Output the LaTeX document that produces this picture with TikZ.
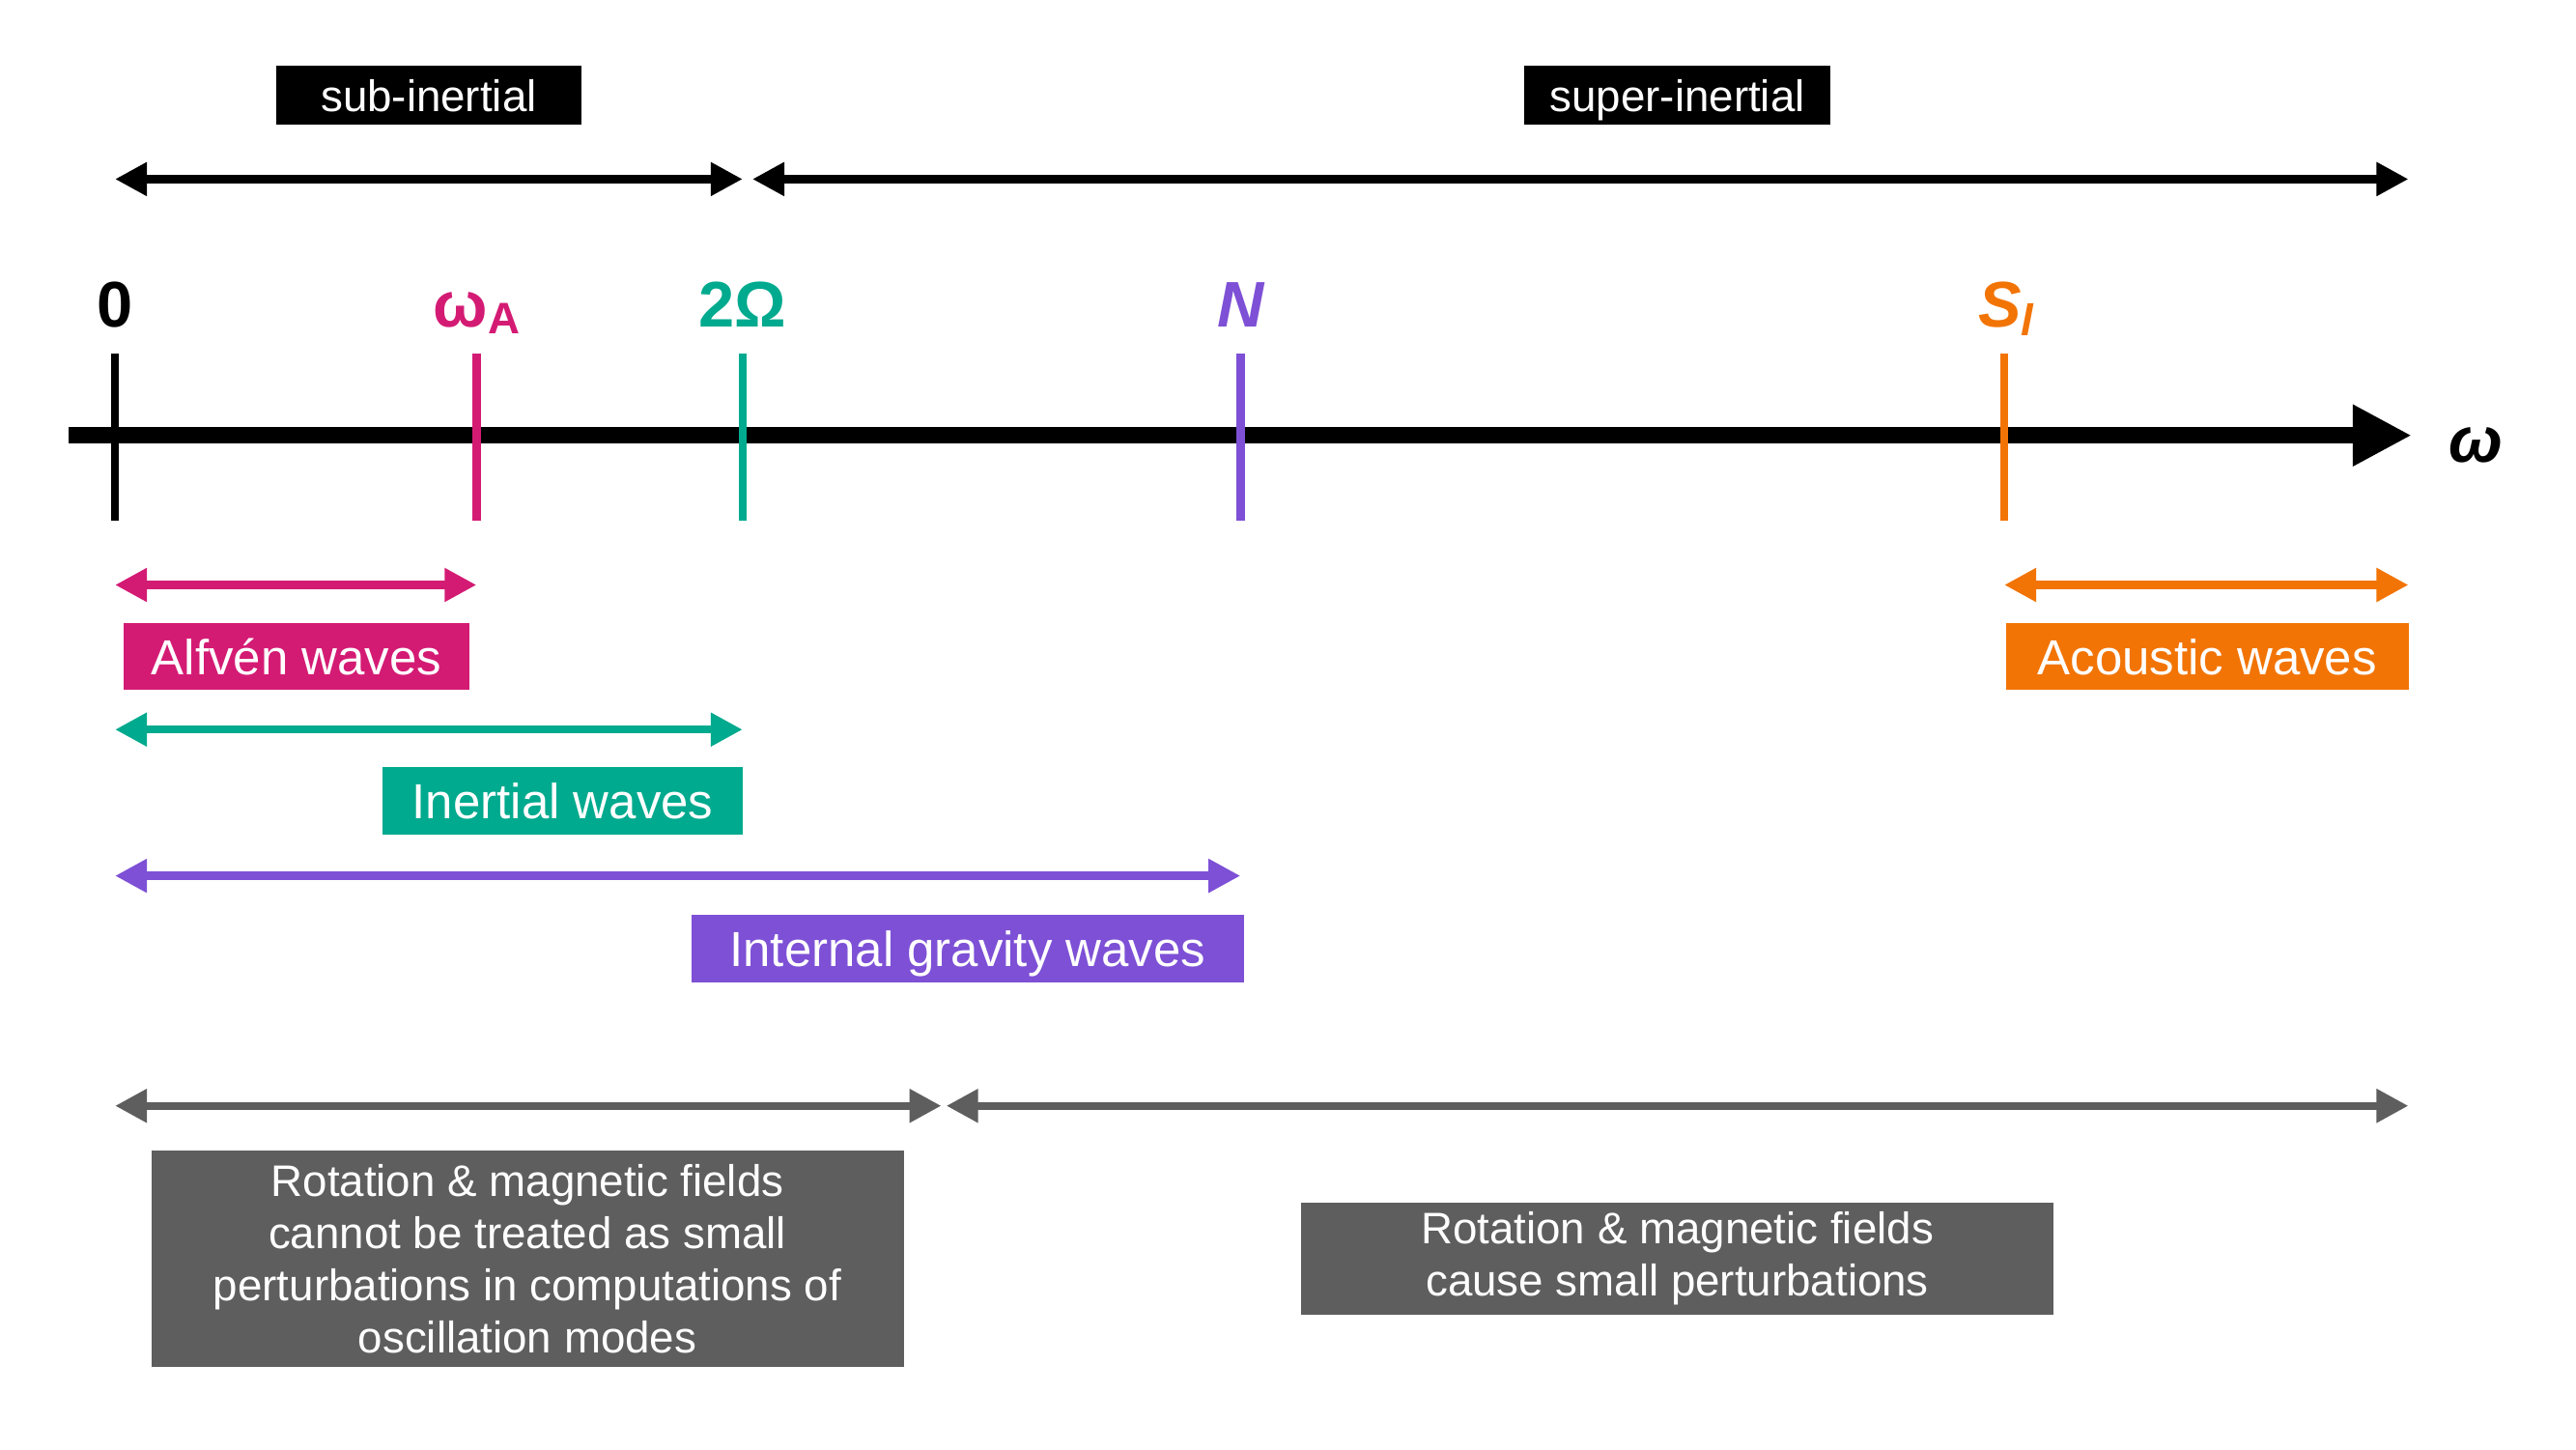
\documentclass[tikz,border=0pt]{standalone}
\usepackage{fontspec}
\setmainfont{Liberation Sans}
\usetikzlibrary{arrows.meta}
\definecolor{alf_pink}{HTML}{D41B74}
\definecolor{in_teal}{HTML}{00AA8E}
\definecolor{igw_purple}{HTML}{7D50D6}
\definecolor{ac_orange}{HTML}{F27405}
\definecolor{mode_gray}{HTML}{5E5E5E}

\tikzset{
  regime/.style={fill=black, text=white, minimum width=3.164cm, minimum height=0.612cm,
    inner sep=0pt, text height=9.5pt, text depth=0pt, font=\fontsize{13}{15}\selectfont},
  wavebox/.style={fill=#1, text=white, minimum height=0.697cm, inner sep=0pt,
    text height=10.6pt, text depth=0pt, font=\fontsize{14.5}{17}\selectfont},
  modebox/.style={fill=mode_gray, text=white, minimum width=7.79cm, inner sep=0pt,
    align=center, font=\fontsize{13}{15.4}\selectfont},
  rangearrow/.style={draw=#1, line width=2.35pt,
    {Triangle[length=9.4pt,width=9.4pt]}-{Triangle[length=9.4pt,width=9.4pt]}},
  freqtick/.style={draw=#1, line width=2.45pt},
  ticklabel/.style={text=#1, anchor=base, inner sep=0pt,
    font=\fontsize{19}{19}\selectfont\bfseries},
}

\begin{document}
\begin{tikzpicture}
  \useasboundingbox (0,0) rectangle (26.67,-15);

  % points on the frequency axis
  \coordinate (ax0) at (0.714,-4.507);
  \coordinate (z0) at (1.191,-4.507);
  \coordinate (wa) at (4.933,-4.507);
  \coordinate (om) at (7.688,-4.507);
  \coordinate (bv) at (12.842,-4.507);
  \coordinate (sl) at (20.751,-4.507);
  \coordinate (hi) at (24.935,-4.507);
  \coordinate (ax1) at (24.969,-4.507);

  % rows
  \coordinate (toprow) at (0,-1.854);
  \coordinate (ttop) at (0,-3.657);
  \coordinate (tbot) at (0,-5.392);
  \coordinate (alfrow) at (0,-6.055);
  \coordinate (inrow) at (0,-7.552);
  \coordinate (igwrow) at (0,-9.066);
  \coordinate (moderow) at (0,-11.447);
  \coordinate (supst) at (7.790,-1.854);
  \coordinate (pertl) at (9.746,-11.447);
  \coordinate (pertr) at (9.797,-11.447);

  % regimes
  \node[regime] (sub) at (4.439,-0.987) {sub-inertial};
  \node[regime] (super) at (17.366,-0.987) {super-inertial};
  \draw[rangearrow=black] (z0 |- toprow) -- (om |- toprow);
  \draw[rangearrow=black] (supst) -- (hi |- toprow);

  % axis
  \draw[line width=4.7pt, -{Triangle[length=17.4pt,width=17pt]}] (ax0) -- (ax1);
  \node[anchor=base, inner sep=0pt, font=\fontsize{19}{19}\selectfont\bfseries\itshape]
    (wlab) at (25.632,-4.78) {ω};

  \draw[freqtick=black] (z0 |- ttop) -- (z0 |- tbot);
  \draw[freqtick=alf_pink] (wa |- ttop) -- (wa |- tbot);
  \draw[freqtick=in_teal] (om |- ttop) -- (om |- tbot);
  \draw[freqtick=igw_purple] (bv |- ttop) -- (bv |- tbot);
  \draw[freqtick=ac_orange] (sl |- ttop) -- (sl |- tbot);

  \node[ticklabel=black] (l0) at (1.191,-3.385) {0};
  \node[ticklabel=alf_pink] (lwa) at (4.933,-3.385)
    {ω\raisebox{-2pt}{\fontsize{13}{13}\selectfont A}};
  \node[ticklabel=in_teal] (lom) at (7.688,-3.385) {2Ω};
  \node[ticklabel=igw_purple, font=\fontsize{19}{19}\selectfont\bfseries\itshape]
    (lbv) at (12.842,-3.385) {N};
  \node[ticklabel=ac_orange, font=\fontsize{19}{19}\selectfont\bfseries\itshape]
    (lsl) at (20.768,-3.385) {S\raisebox{-2.5pt}{\fontsize{13}{13}\selectfont l}};

  % wave families
  \draw[rangearrow=alf_pink] (z0 |- alfrow) -- (wa |- alfrow);
  \node[wavebox=alf_pink, minimum width=3.589cm] (alf) at (3.070,-6.795) {Alfvén waves};

  \draw[rangearrow=ac_orange] (sl |- alfrow) -- (hi |- alfrow);
  \node[wavebox=ac_orange, minimum width=4.167cm] (ac) at (22.852,-6.795) {Acoustic waves};

  \draw[rangearrow=in_teal] (z0 |- inrow) -- (om |- inrow);
  \node[wavebox=in_teal, minimum width=3.725cm] (in) at (5.826,-8.292) {Inertial waves};

  \draw[rangearrow=igw_purple] (z0 |- igwrow) -- (bv |- igwrow);
  \node[wavebox=igw_purple, minimum width=5.715cm] (igw) at (10.018,-9.823) {Internal gravity waves};

  % perturbative or not
  \draw[rangearrow=mode_gray] (z0 |- moderow) -- (pertl);
  \draw[rangearrow=mode_gray] (pertr) -- (hi |- moderow);
  \node[modebox, minimum height=2.245cm] (nonpert) at (5.460,-13.029)
    {Rotation \& magnetic fields\\cannot be treated as small\\perturbations in computations of\\oscillation modes};
  \node[modebox, minimum height=1.157cm] (pert) at (17.366,-13.029)
    {Rotation \& magnetic fields\\cause small perturbations};
\end{tikzpicture}
\end{document}
